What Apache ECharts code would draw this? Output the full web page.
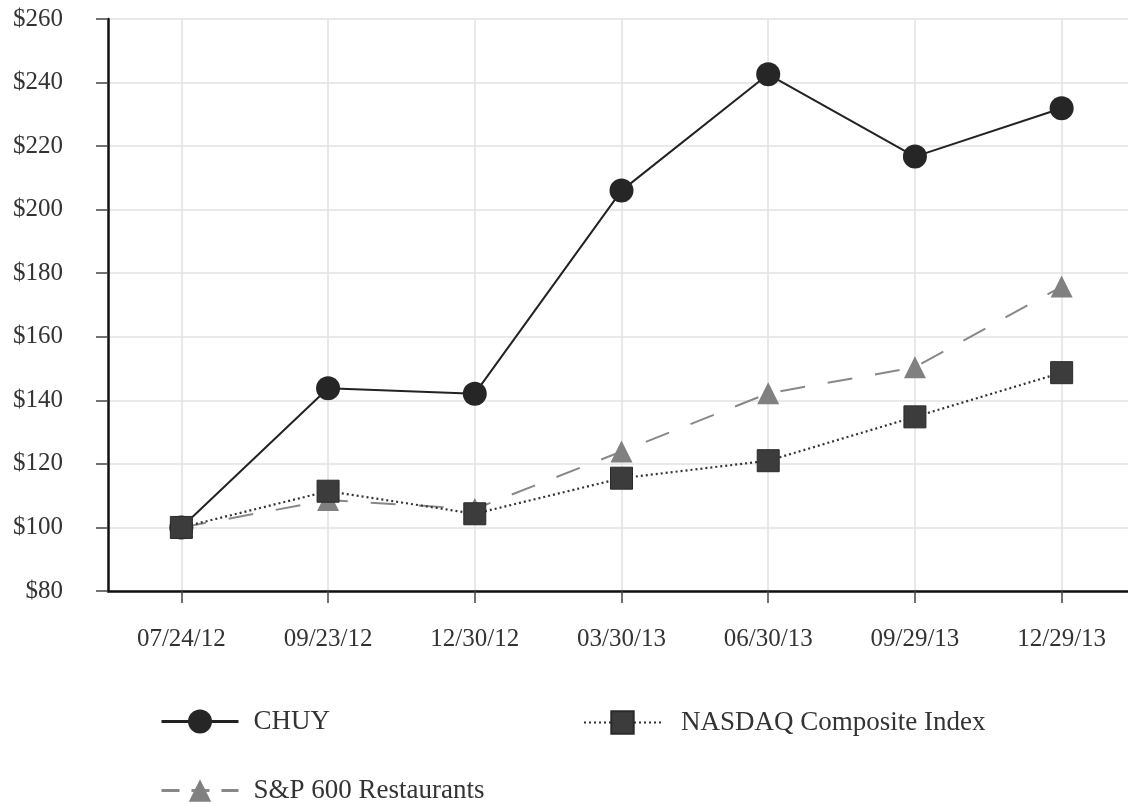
<!DOCTYPE html>
<html>
<head>
<meta charset="utf-8">
<script src="https://cdn.jsdelivr.net/npm/echarts@6/dist/echarts.min.js"></script>
<style>
html,body{margin:0;padding:0;background:#fff;overflow:hidden;}
#chart{width:1135px;height:804px;}
</style>
</head>
<body>
<div id="chart"></div>
<script>
const categories = ['07/24/12','09/23/12','12/30/12','03/30/13','06/30/13','09/29/13','12/29/13'];
const chuy = [100, 143.8, 142.1, 206, 242.6, 216.7, 231.9];
const nasdaq = [100, 111.4, 104.3, 115.5, 121.0, 134.8, 148.7];
const spRest = [100, 108.6, 105.8, 123.9, 142.2, 150.4, 175.8];
const yTicks = { min: 80, max: 260, interval: 20 };

const font = 'Liberation Serif';
const chart = echarts.init(document.getElementById('chart'));
chart.setOption({
  backgroundColor: '#fff',
  animation: false,
  textStyle: { fontFamily: font },
  grid: { left: 108, right: 0, top: 19, height: 572, containLabel: false },
  legend: [
    { data: ['CHUY'], left: 160, top: 708, padding: 0, itemWidth: 77, itemHeight: 30,
      lineStyle: { width: 3 },
      textStyle: { fontFamily: font, fontSize: 27, color: '#333', padding: [0,0,0,10] } },
    { data: ['NASDAQ Composite Index'], left: 583, top: 709, padding: 0, itemWidth: 77, itemHeight: 28,
      textStyle: { fontFamily: font, fontSize: 27, color: '#333', padding: [0,0,0,15] } },
    { data: ['S&P 600 Restaurants'], left: 160, top: 777, padding: 0, itemWidth: 77, itemHeight: 28,
      lineStyle: { width: 3, type: [18, 12] },
      textStyle: { fontFamily: font, fontSize: 27, color: '#333', padding: [0,0,0,10] } }
  ],
  xAxis: {
    type: 'category',
    data: categories,
    boundaryGap: true,
    axisLine: { lineStyle: { color: '#111', width: 2.5 } },
    axisTick: { show: true, alignWithLabel: true, length: 12, lineStyle: { color: '#444', width: 1.5 } },
    axisLabel: { margin: 36, fontFamily: font, fontSize: 25, color: '#333' },
    splitLine: { show: true, alignWithLabel: true, lineStyle: { color: '#e2e2e2', width: 1.5 } }
  },
  yAxis: {
    type: 'value',
    min: yTicks.min, max: yTicks.max, interval: yTicks.interval,
    axisLine: { show: true, lineStyle: { color: '#111', width: 2.5 } },
    axisTick: { show: true, length: 12, lineStyle: { color: '#444', width: 1.5 } },
    axisLabel: { margin: 45, fontFamily: font, fontSize: 25, color: '#333', formatter: v => '$' + v },
    splitLine: { show: true, lineStyle: { color: '#e2e2e2', width: 1.5 } }
  },
  series: [
    { name: 'CHUY', type: 'line', data: chuy, symbol: 'circle', symbolSize: 24,
      lineStyle: { color: '#222', width: 2 }, itemStyle: { color: '#262626' }, z: 2 },
    { name: 'S&P 600 Restaurants', type: 'line', data: spRest, symbol: 'triangle', symbolSize: 22,
      lineStyle: { color: '#888', width: 2, type: [25, 23] }, itemStyle: { color: '#808080' }, z: 3 },
    { name: 'NASDAQ Composite Index', type: 'line', data: nasdaq, symbol: 'rect', symbolSize: 22,
      lineStyle: { color: '#333', width: 2.2, type: [2, 3] }, itemStyle: { color: '#3c3c3c', borderColor: '#2a2a2a', borderWidth: 1 }, z: 4 }
  ]
});
</script>
</body>
</html>
